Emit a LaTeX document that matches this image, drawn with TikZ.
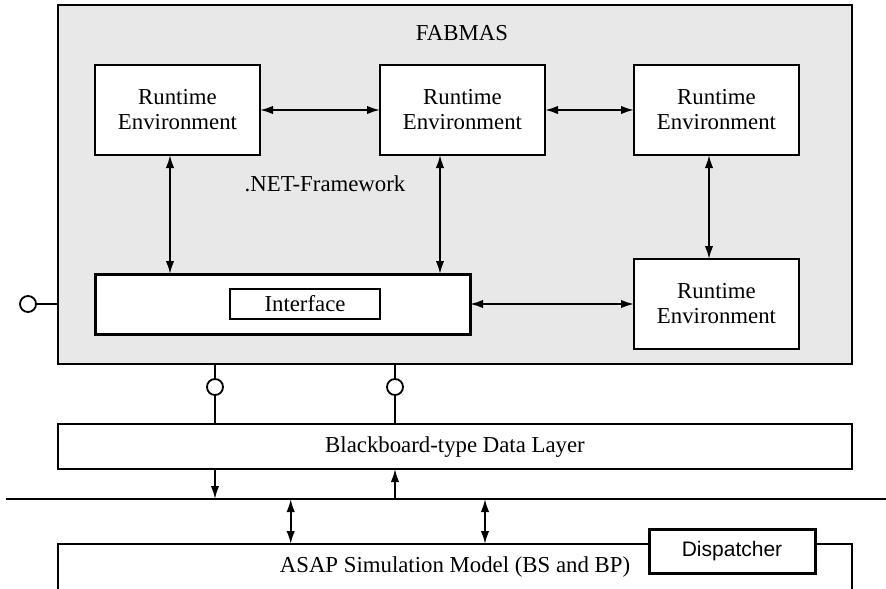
\documentclass[tikz,border=0pt]{standalone}
\usepackage{fontspec}
\setmainfont{Liberation Serif}
\newfontfamily\dispfont{Liberation Sans}
\usetikzlibrary{arrows.meta}
\definecolor{framegray}{HTML}{E8E8E8}

\begin{document}
\begin{tikzpicture}[x=0.5pt,y=-0.5pt,
  every node/.style={font=\fontsize{11.4pt}{12.5pt}\selectfont, inner sep=0pt, outer sep=0pt},
  box/.style={draw, line width=1pt, fill=white, align=center},
  rebox/.style={box, minimum width=82.5pt, minimum height=45pt},
  lolli/.style={draw, circle, line width=0.9pt, fill=white, minimum size=8pt},
  wire/.style={line width=0.9pt},
  bi/.style={wire, {Latex[length=6.5pt,width=4.2pt]}-{Latex[length=6.5pt,width=4.2pt]}},
  uni/.style={wire, -{Latex[length=6.5pt,width=4.2pt]}}
]
\useasboundingbox (0,0) rectangle (886,588);
\clip (0,0) rectangle (886,588);

% FABMAS container
\node[draw, line width=1pt, fill=framegray, minimum width=397.25pt, minimum height=179.5pt] (frame) at (454.75,184.5) {};
\node (title) at (462,33) {FABMAS};
\node (net) at (325,184) {.NET-Framework};

% runtime environments
\node[rebox] (re1) at (177.5,110) {Runtime\\Environment};
\node[rebox] (re2) at (462.5,110) {Runtime\\Environment};
\node[rebox] (re3) at (716.5,110) {Runtime\\Environment};
\node[rebox] (re4) at (716.5,304) {Runtime\\Environment};

% interface block
\node[box, line width=1.5pt, minimum width=187.5pt, minimum height=30pt] (iface) at (282.5,304) {};
\node[box, line width=0.9pt, minimum width=75pt, minimum height=15pt] (ifin) at (305,304) {Interface};

% connections inside FABMAS
\coordinate (v1) at (170,0);
\coordinate (v2) at (440,0);
\coordinate (v3) at (709,0);
\draw[bi] (re1.east) -- (re2.west);
\draw[bi] (re2.east) -- (re3.west);
\draw[bi] (re1.south -| v1) -- (iface.north -| v1);
\draw[bi] (re2.south -| v2) -- (iface.north -| v2);
\draw[bi] (re3.south -| v3) -- (re4.north -| v3);
\draw[bi] (iface.east) -- (re4.west);

% left provided interface
\node[lolli] (c0) at (28,304) {};
\draw[wire] (c0.east) -- (frame.west |- c0);

% data layer
\node[box, minimum width=397.25pt, minimum height=22.5pt] (bb) at (454.75,446.5) {};
\node (bbtext) at (455,447) {Blackboard-type Data Layer};

\node[lolli] (c1) at (215,387) {};
\node[lolli] (c2) at (395,387) {};
\draw[wire] (frame.south -| c1) -- (c1.north);
\draw[wire] (c1.south) -- (bb.north -| c1);
\draw[wire] (frame.south -| c2) -- (c2.north);
\draw[wire] (c2.south) -- (bb.north -| c2);

% bus line
\coordinate (busL) at (6,499);
\coordinate (busR) at (886,499);
\draw[wire] (busL) -- (busR);
\draw[uni] (bb.south -| c1) -- (busL -| c1);
\draw[uni] (busL -| c2) -- (bb.south -| c2);

% simulation model
\node[box, minimum width=397.25pt, minimum height=28pt] (asap) at (454.75,572) {};
\node (asaptext) at (455,567) {ASAP Simulation Model (BS and BP)};
\node[box, line width=1.5pt, minimum width=83pt, minimum height=22pt, font=\dispfont\fontsize{10.5pt}{12pt}\selectfont] (disp) at (732,551.5) {Dispatcher};

\coordinate (t1) at (290.7,0);
\coordinate (t2) at (485,0);
\draw[bi] (busL -| t1) -- (asap.north -| t1);
\draw[bi] (busL -| t2) -- (asap.north -| t2);
\end{tikzpicture}
\end{document}
